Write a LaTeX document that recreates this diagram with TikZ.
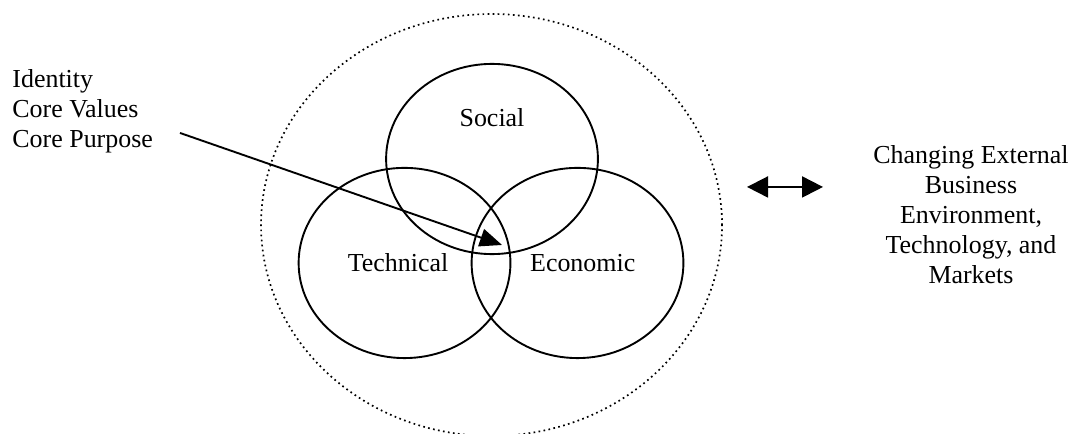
\documentclass[tikz,border=0pt]{standalone}
\usepackage{fontspec}
\setmainfont{Liberation Serif}
\usetikzlibrary{shapes.geometric}
\usetikzlibrary{arrows.meta,calc}

\begin{document}
\begin{tikzpicture}[
            every node/.style = {font=\fontsize{12.3}{14.2}\selectfont},
            sphere/.style = {draw, ellipse, line width=0.9pt, inner sep=0pt,
                             minimum width=3.53cm, minimum height=3.17cm},
            ring/.style = {draw, ellipse, line width=0.8pt, inner sep=0pt,
                           dash pattern=on 0.8pt off 1.6pt},
            pointer/.style = {line width=0.9pt, -{Triangle[length=0.37cm,width=0.3cm]}},
            both/.style = {line width=0.9pt, {Triangle[length=0.35cm,width=0.35cm]}-{Triangle[length=0.35cm,width=0.35cm]}}
            ]
    \useasboundingbox (0,0) rectangle (17.883,7.233);

    % the surrounding environment
    \node[ring, minimum width=7.683cm, minimum height=7.033cm] (env) at (8.192,3.483) {};

    % three overlapping spheres
    \node[sphere] (social) at (8.2,4.583) {};
    \node[sphere] (technical) at (6.742,2.85) {};
    \node[sphere] (economic) at (9.625,2.85) {};

    \node[anchor=base] (sociallbl) at (8.2,5.117) {Social};
    \node[anchor=base] (techlbl) at (6.633,2.7) {Technical};
    \node[anchor=base] (econlbl) at (9.712,2.7) {Economic};

    % core of the organisation
    \node[anchor=north west, align=left, inner sep=0pt] (core) at (0.2,6.083)
        {Identity\\Core Values\\Core Purpose};
    \coordinate (corestart) at (3.0,5.017);
    \coordinate (center) at (8.367,3.15);
    \draw[pointer] (corestart) -- (center);

    % outside world
    \node[anchor=north, align=center, inner sep=0pt] (outside) at (16.183,4.817)
        {Changing External\\Business\\Environment,\\Technology, and\\Markets};
    \coordinate (left) at (12.45,4.117);
    \coordinate (right) at (13.717,4.117);
    \draw[both] (left) -- (right);
\end{tikzpicture}
\end{document}
